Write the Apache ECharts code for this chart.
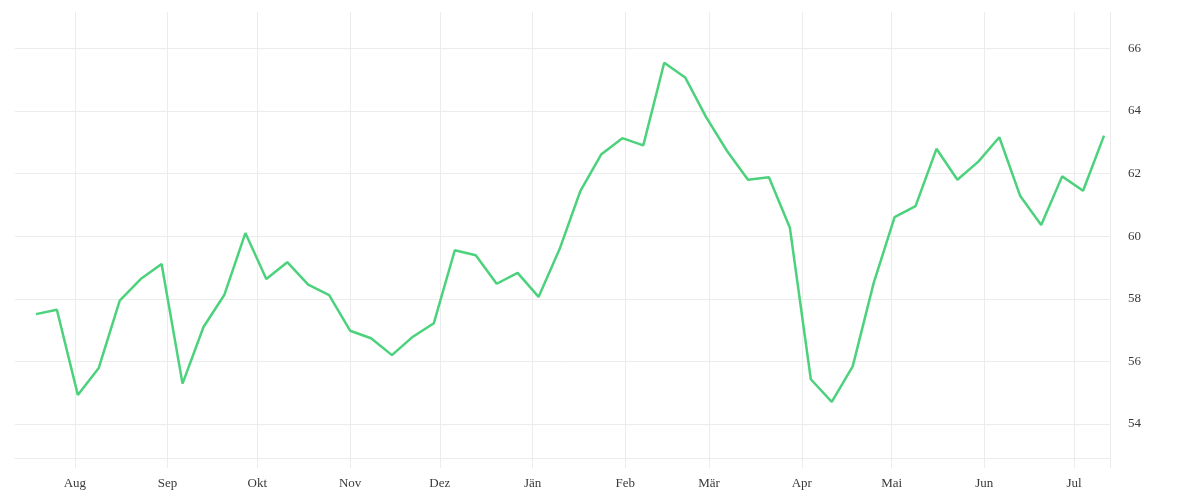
<!DOCTYPE html>
<html>
<head>
<meta charset="utf-8">
<script src="https://cdn.jsdelivr.net/npm/echarts@6/dist/echarts.min.js"></script>
<style>
html,body{margin:0;padding:0;background:#fff;}
#chart{width:1200px;height:500px;}
</style>
</head>
<body>
<div id="chart"></div>
<script>
const dates = [
  '2022-07-19','2022-07-26','2022-08-02','2022-08-09','2022-08-16','2022-08-23','2022-08-30',
  '2022-09-06','2022-09-13','2022-09-20','2022-09-27','2022-10-04','2022-10-11','2022-10-18',
  '2022-10-25','2022-11-01','2022-11-08','2022-11-15','2022-11-22','2022-11-29','2022-12-06',
  '2022-12-13','2022-12-20','2022-12-27','2023-01-03','2023-01-10','2023-01-17','2023-01-24',
  '2023-01-31','2023-02-07','2023-02-14','2023-02-21','2023-02-28','2023-03-07','2023-03-14',
  '2023-03-21','2023-03-28','2023-04-04','2023-04-11','2023-04-18','2023-04-25','2023-05-02',
  '2023-05-09','2023-05-16','2023-05-23','2023-05-30','2023-06-06','2023-06-13','2023-06-20',
  '2023-06-27','2023-07-04','2023-07-11'
];
const values = [
  57.51, 57.65, 54.93, 55.79, 57.94, 58.63, 59.11, 55.29, 57.10, 58.13,
  60.10, 58.63, 59.17, 58.45, 58.12, 56.98, 56.74, 56.20, 56.79, 57.22,
  59.55, 59.39, 58.48, 58.83, 58.06, 59.58, 61.45, 62.62, 63.13, 62.90,
  65.54, 65.07, 63.80, 62.72, 61.80, 61.88, 60.27, 55.43, 54.71, 55.84,
  58.50, 60.61, 60.96, 62.79, 61.80, 62.38, 63.16, 61.28, 60.36, 61.91,
  61.45, 63.21
];
const monthTicks = [
  '2022-08-01','2022-09-01','2022-10-01','2022-11-01','2022-12-01','2023-01-01',
  '2023-02-01','2023-03-01','2023-04-01','2023-05-01','2023-06-01','2023-07-01'
];
const monthNames = ['Jän','Feb','Mär','Apr','Mai','Jun','Jul','Aug','Sep','Okt','Nov','Dez'];
const yTicks = [54, 56, 58, 60, 62, 64, 66];
const xMin = '2022-07-12';
const xMax = '2023-07-13';
const yMin = 52.915;
const yMax = 67.16;

const toTs = s => {
  const p = s.split('-').map(Number);
  return new Date(p[0], p[1] - 1, p[2]).getTime();
};
const monthTs = monthTicks.map(toTs);
const gridColor = '#ececec';
const font = '"Liberation Serif", serif';

const chart = echarts.init(document.getElementById('chart'));
chart.setOption({
  animation: false,
  backgroundColor: '#ffffff',
  grid: { left: 15, right: 90, top: 12, bottom: 42, containLabel: false },
  xAxis: {
    type: 'value',
    min: toTs(xMin),
    max: toTs(xMax),
    axisLine: { show: true, lineStyle: { color: gridColor, width: 1 } },
    axisTick: {
      show: true, length: 10, lineStyle: { color: gridColor, width: 1 },
      customValues: monthTs.concat([toTs(xMax)])
    },
    splitLine: { show: true, lineStyle: { color: gridColor, width: 1 } },
    axisLabel: {
      customValues: monthTs,
      margin: 19,
      color: '#3a3a3a',
      fontFamily: font,
      fontSize: 13,
      formatter: v => monthNames[new Date(v).getMonth()]
    }
  },
  yAxis: {
    type: 'value',
    position: 'right',
    min: yMin,
    max: yMax,
    axisLine: { show: false },
    axisTick: { show: false, customValues: yTicks },
    splitLine: { show: true, lineStyle: { color: gridColor, width: 1 } },
    axisLabel: {
      customValues: yTicks,
      margin: 18,
      padding: [3, 0, 0, 0],
      color: '#3a3a3a',
      fontFamily: font,
      fontSize: 13,
      align: 'left'
    }
  },
  series: [{
    type: 'line',
    data: dates.map((d, i) => [toTs(d), values[i]]),
    showSymbol: false,
    symbol: 'none',
    lineStyle: { color: '#4cd27c', width: 2.5 },
    itemStyle: { color: '#4cd27c' }
  }]
});
</script>
</body>
</html>
